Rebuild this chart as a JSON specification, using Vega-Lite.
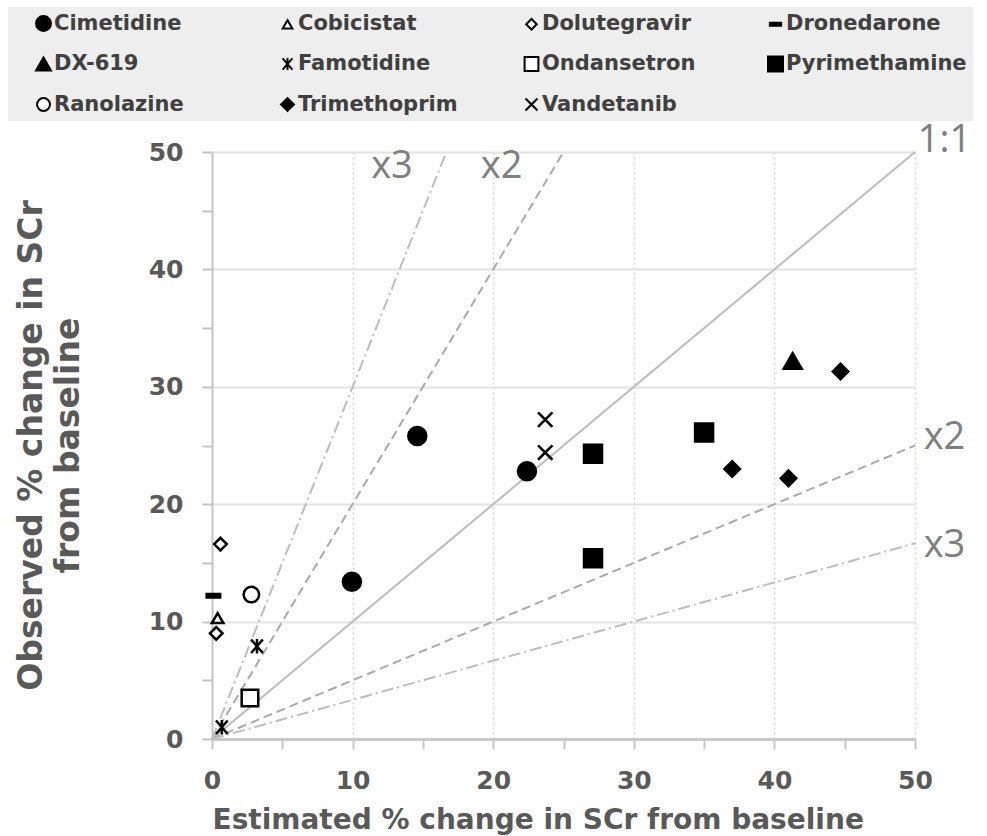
{
  "$schema": "https://vega.github.io/schema/vega-lite/v6.json",
  "autosize": "none",
  "width": 703,
  "height": 587,
  "padding": {"left": 212, "top": 152, "right": 72, "bottom": 97},
  "background": "white",
  "datasets": {
    "points": [
      {"drug": "Cimetidine", "est": 9.95, "obs": 13.4},
      {"drug": "Cimetidine", "est": 14.6, "obs": 25.8},
      {"drug": "Cimetidine", "est": 22.4, "obs": 22.8},
      {"drug": "Cobicistat", "est": 0.4, "obs": 10.3},
      {"drug": "Dolutegravir", "est": 0.6, "obs": 16.6},
      {"drug": "Dolutegravir", "est": 0.3, "obs": 9.0},
      {"drug": "Dronedarone", "est": 0.1, "obs": 12.2},
      {"drug": "DX-619", "est": 41.3, "obs": 32.2},
      {"drug": "Famotidine", "est": 3.2, "obs": 7.9},
      {"drug": "Famotidine", "est": 0.7, "obs": 1.0},
      {"drug": "Ondansetron", "est": 2.7, "obs": 3.5},
      {"drug": "Pyrimethamine", "est": 27.1, "obs": 24.3},
      {"drug": "Pyrimethamine", "est": 35.0, "obs": 26.1},
      {"drug": "Pyrimethamine", "est": 27.1, "obs": 15.4},
      {"drug": "Ranolazine", "est": 2.8, "obs": 12.3},
      {"drug": "Trimethoprim", "est": 44.7, "obs": 31.3},
      {"drug": "Trimethoprim", "est": 37.0, "obs": 23.0},
      {"drug": "Trimethoprim", "est": 41.0, "obs": 22.2},
      {"drug": "Vandetanib", "est": 23.7, "obs": 24.4},
      {"drug": "Vandetanib", "est": 23.7, "obs": 27.2}
    ],
    "lines": [
      {"ref": "1:1", "style": "solid", "est": 0, "obs": 0},
      {"ref": "1:1", "style": "solid", "est": 50, "obs": 50},
      {"ref": "x2 upper", "style": "dash", "est": 0, "obs": 0},
      {"ref": "x2 upper", "style": "dash", "est": 25, "obs": 50},
      {"ref": "x3 upper", "style": "dashdot", "est": 0, "obs": 0},
      {"ref": "x3 upper", "style": "dashdot", "est": 16.67, "obs": 50},
      {"ref": "x2 lower", "style": "dash", "est": 0, "obs": 0},
      {"ref": "x2 lower", "style": "dash", "est": 50, "obs": 25},
      {"ref": "x3 lower", "style": "dashdot", "est": 0, "obs": 0},
      {"ref": "x3 lower", "style": "dashdot", "est": 50, "obs": 16.67}
    ],
    "labels": [
      {"text": "1:1", "est": 52.1, "obs": 50.9},
      {"text": "x3", "est": 12.8, "obs": 48.7},
      {"text": "x2", "est": 20.6, "obs": 48.7},
      {"text": "x2", "est": 52.1, "obs": 25.6},
      {"text": "x3", "est": 52.1, "obs": 16.4}
    ]
  },
  "encoding": {
    "x": {
      "field": "est",
      "type": "quantitative",
      "scale": {"domain": [0, 50], "nice": false, "zero": false},
      "axis": {
        "title": "Estimated % change in SCr from baseline",
        "values": [0, 5, 10, 15, 20, 25, 30, 35, 40, 45, 50],
        "labelExpr": "datum.value % 10 === 0 ? datum.label : ''",
        "grid": true,
        "gridOpacity": {"condition": {"test": "datum.value % 10 === 0 && datum.value > 0", "value": 1}, "value": 0},
        "gridColor": "#d4d4d4",
        "gridDash": [2, 3],
        "gridWidth": 1.5,
        "domainColor": "#c8c8c8",
        "domainWidth": 3,
        "tickColor": "#c8c8c8",
        "tickWidth": 2,
        "tickSize": 10,
        "labelFont": "DejaVu Sans",
        "labelFontWeight": "bold",
        "labelFontSize": 25,
        "labelColor": "#595959",
        "labelPadding": 19,
        "labelFlush": false,
        "labelOverlap": false,
        "titleFont": "DejaVu Sans",
        "titleFontWeight": "bold",
        "titleFontSize": 28,
        "titleColor": "#595959",
        "titleX": 0,
        "titleY": 89,
        "titleAlign": "left",
        "titleAnchor": "start",
        "titleBaseline": "alphabetic"
      }
    },
    "y": {
      "field": "obs",
      "type": "quantitative",
      "scale": {"domain": [0, 50], "nice": false, "zero": false},
      "axis": {
        "title": ["Observed % change in SCr", "from baseline"],
        "values": [0, 5, 10, 15, 20, 25, 30, 35, 40, 45, 50],
        "labelExpr": "datum.value % 10 === 0 ? datum.label : ''",
        "grid": true,
        "gridOpacity": {"condition": {"test": "datum.value % 10 === 0 && datum.value > 0", "value": 1}, "value": 0},
        "gridColor": "#e3e3e3",
        "gridWidth": 2,
        "domainColor": "#c4c4c4",
        "domainWidth": 2,
        "tickColor": "#c4c4c4",
        "tickWidth": 2,
        "tickSize": 10,
        "labelFont": "DejaVu Sans",
        "labelFontWeight": "bold",
        "labelFontSize": 25,
        "labelColor": "#595959",
        "labelPadding": 19,
        "labelFlush": false,
        "labelOverlap": false,
        "titleFont": "DejaVu Sans",
        "titleFontWeight": "bold",
        "titleFontSize": 33,
        "titleColor": "#595959",
        "titleAngle": -90,
        "titleX": -171,
        "titleY": 293,
        "titleAlign": "center",
        "titleBaseline": "alphabetic",
        "titleLineHeight": 37,
        "titleLimit": 800
      }
    }
  },
  "layer": [
    {
      "data": {"name": "lines"},
      "mark": {"type": "line", "strokeWidth": 2, "clip": false},
      "encoding": {
        "detail": {"field": "ref", "type": "nominal"},
        "color": {
          "field": "style",
          "type": "nominal",
          "scale": {"domain": ["solid", "dash", "dashdot"], "range": ["#bcbcbc", "#aaaaaa", "#bdbdbd"]},
          "legend": null
        },
        "strokeDash": {
          "field": "style",
          "type": "nominal",
          "scale": {"domain": ["solid", "dash", "dashdot"], "range": [[1, 0], [9, 5], [12, 4, 2, 4]]},
          "legend": null
        }
      }
    },
    {
      "data": {"name": "labels"},
      "mark": {"type": "text", "font": "Open Sans", "fontSize": 38, "color": "#7f7f7f", "baseline": "middle", "align": "center", "clip": false},
      "encoding": {
        "text": {"field": "text", "type": "nominal"}
      }
    },
    {
      "data": {"name": "points"},
      "mark": {"type": "point", "filled": false, "opacity": 1, "size": 324, "strokeWidth": 2.5, "clip": false},
      "encoding": {
        "shape": {
          "field": "drug",
          "type": "nominal",
          "scale": {
            "domain": ["Cimetidine", "Cobicistat", "Dolutegravir", "Dronedarone", "DX-619", "Famotidine", "Ondansetron", "Pyrimethamine", "Ranolazine", "Trimethoprim", "Vandetanib"],
            "range": [
              "circle",
              "M0,-0.55L0.64,0.55L-0.64,0.55Z",
              "M-0.7,0L0,-0.7L0.7,0L0,0.7Z",
              "M-0.75,-0.2H0.75V0.2H-0.75Z",
              "triangle-up",
              "M-0.65,-0.75L0.65,0.75M-0.65,0.75L0.65,-0.75M0,-0.8V0.8",
              "M-0.92,-0.92H0.92V0.92H-0.92Z",
              "square",
              "M0.86,0A0.86,0.86 0 1,1 -0.86,0A0.86,0.86 0 1,1 0.86,0Z",
              "M-0.86,0L0,-0.86L0.86,0L0,0.86Z",
              "M-0.8,-0.8L0.8,0.8M-0.8,0.8L0.8,-0.8"
            ]
          },
          "legend": {"title": null}
        },
        "fill": {
          "field": "drug",
          "type": "nominal",
          "scale": {
            "domain": ["Cimetidine", "Cobicistat", "Dolutegravir", "Dronedarone", "DX-619", "Famotidine", "Ondansetron", "Pyrimethamine", "Ranolazine", "Trimethoprim", "Vandetanib"],
            "range": ["black", "white", "white", "black", "black", "black", "white", "black", "white", "black", "black"]
          },
          "legend": {"title": null}
        },
        "stroke": {
          "field": "drug",
          "type": "nominal",
          "scale": {
            "domain": ["Cimetidine", "Cobicistat", "Dolutegravir", "Dronedarone", "DX-619", "Famotidine", "Ondansetron", "Pyrimethamine", "Ranolazine", "Trimethoprim", "Vandetanib"],
            "range": ["black", "black", "black", "black", "black", "black", "black", "black", "black", "black", "black"]
          },
          "legend": {"title": null}
        }
      }
    }
  ],
  "config": {
    "view": {"stroke": null},
    "legend": {
      "orient": "none",
      "legendX": -204,
      "legendY": -145,
      "direction": "horizontal",
      "columns": 4,
      "gridAlign": "all",
      "columnPadding": 23,
      "rowPadding": 17.5,
      "padding": 6,
      "fillColor": "#eeeeee",
      "strokeColor": null,
      "symbolOffset": 19,
      "symbolSize": 225,
      "symbolStrokeWidth": 2,
      "labelFont": "DejaVu Sans",
      "labelFontWeight": "bold",
      "labelFontSize": 21,
      "labelColor": "#404040",
      "labelOffset": 0,
      "labelLimit": 300
    }
  }
}
